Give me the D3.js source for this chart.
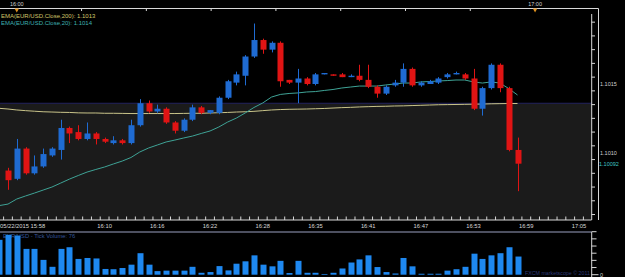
<!DOCTYPE html>
<html><head><meta charset="utf-8">
<script src="https://cdn.jsdelivr.net/npm/d3@7"></script>
<style>html,body{margin:0;padding:0;background:#000;overflow:hidden}</style>
</head><body><svg id="c" width="625" height="277"></svg>
<script>
// ---- data ----
const times = ["15:58","15:59","16:00","16:01","16:02","16:03","16:04","16:05","16:06","16:07","16:08","16:09","16:10","16:11","16:12","16:13","16:14","16:15","16:16","16:17","16:18","16:19","16:20","16:21","16:22","16:23","16:24","16:25","16:26","16:27","16:28","16:29","16:30","16:31","16:33","16:34","16:35","16:36","16:37","16:38","16:39","16:40","16:41","16:42","16:43","16:44","16:45","16:46","16:47","16:48","16:49","16:50","16:51","16:52","16:53","16:54","16:55","16:56","16:57","16:58"];
const open  = [null,1.10087,1.10081,1.10103,1.10085,1.10090,1.10098,1.10102,1.10118,1.10115,1.10110,1.10114,1.10110,1.10107,1.10109,1.10107,1.10120,1.10136,1.10130,1.10132,1.10122,1.10116,1.10124,1.10133,1.10129,1.10129,1.10140,1.10151,1.10156,1.10170,1.10182,1.10175,1.10180,1.10153,1.10151,1.10154,1.10150,1.10157,1.10157,1.10157,1.10155,1.10156,1.10153,1.10148,1.10143,1.10149,1.10151,1.10161,1.10149,1.10150,1.10151,1.10155,1.10157,1.10157,1.10154,1.10132,1.10147,1.10164,1.10147,1.10102];
const high  = [null,1.10089,1.10110,1.10104,1.10098,1.10103,1.10104,1.10124,1.10119,1.10120,1.10122,1.10115,1.10111,1.10112,1.10110,1.10124,1.10139,1.10138,1.10135,1.10133,1.10123,1.10125,1.10135,1.10134,1.10131,1.10141,1.10153,1.10159,1.10171,1.10194,1.10183,1.10181,1.10181,1.10153,1.10161,1.10155,1.10158,1.10158,1.10157,1.10158,1.10157,1.10164,1.10164,1.10149,1.10149,1.10153,1.10165,1.10162,1.10152,1.10153,1.10155,1.10158,1.10159,1.10158,1.10161,1.10148,1.10165,1.10165,1.10148,1.10111];
const low   = [null,1.10073,1.10080,1.10084,1.10084,1.10089,1.10097,1.10095,1.10107,1.10109,1.10109,1.10106,1.10107,1.10106,1.10106,1.10106,1.10119,1.10129,1.10129,1.10121,1.10114,1.10115,1.10123,1.10128,1.10128,1.10128,1.10139,1.10149,1.10149,1.10169,1.10172,1.10173,1.10148,1.10150,1.10136,1.10149,1.10149,1.10157,1.10156,1.10155,1.10155,1.10152,1.10147,1.10140,1.10142,1.10148,1.10148,1.10148,1.10148,1.10150,1.10150,1.10154,1.10157,1.10153,1.10131,1.10127,1.10146,1.10144,1.10101,1.10072];
const close = [null,1.10080,1.10103,1.10085,1.10090,1.10099,1.10103,1.10118,1.10114,1.10110,1.10114,1.10110,1.10108,1.10109,1.10107,1.10120,1.10136,1.10130,1.10132,1.10122,1.10116,1.10124,1.10133,1.10129,1.10131,1.10140,1.10152,1.10157,1.10170,1.10182,1.10175,1.10180,1.10152,1.10151,1.10154,1.10150,1.10157,1.10158,1.10156,1.10155,1.10156,1.10153,1.10148,1.10143,1.10148,1.10151,1.10161,1.10149,1.10151,1.10152,1.10154,1.10157,1.10158,1.10154,1.10132,1.10147,1.10164,1.10147,1.10102,1.10092];
const volume = [146,167,164,108,108,62,33,108,115,66,70,68,24,23,28,42,90,42,15,17,17,17,33,8,11,36,18,46,56,81,42,35,58,7,58,8,8,3,8,26,51,64,81,32,11,5,70,35,4,4,4,17,23,33,88,66,81,90,115,76];
const ema200 = [1.101323,1.101318,1.101311,1.101306,1.101302,1.101298,1.101296,1.101294,1.101293,1.10129,1.101289,1.101289,1.101287,1.101287,1.101286,1.101285,1.101285,1.101285,1.101285,1.101285,1.101285,1.101286,1.101287,1.101287,1.101289,1.101291,1.101293,1.101296,1.101298,1.101301,1.101306,1.101311,1.101314,1.101316,1.101317,1.101318,1.10132,1.101322,1.101325,1.101328,1.10133,1.101333,1.101335,1.101337,1.101338,1.10134,1.101341,1.101343,1.101345,1.101347,1.101349,1.10135,1.101351,1.101352,1.101353,1.101354,1.101356,1.101357,1.101358,1.101358];
const ema20 = [1.100615,1.100626,1.100663,1.100685,1.100706,1.100728,1.10075,1.100779,1.100808,1.100834,1.100859,1.100878,1.100896,1.100918,1.100939,1.100965,1.101005,1.101034,1.101056,1.101078,1.101092,1.101107,1.101121,1.10114,1.101158,1.101187,1.101223,1.101252,1.101289,1.101329,1.101362,1.101405,1.101424,1.101431,1.101435,1.101442,1.101445,1.101453,1.10146,1.101471,1.101478,1.101485,1.101485,1.101485,1.101493,1.1015,1.101507,1.101507,1.101515,1.101518,1.101522,1.101525,1.101529,1.101529,1.101515,1.101507,1.101515,1.101507,1.101467,1.10142];
const timeTickIndex  = [0,12,18,24,30,36,42,48,54,60,66];
const timeTickLabels = ["05/22/2015 15:58","16:10","16:16","16:22","16:28","16:35","16:41","16:47","16:53","16:59","17:05"];
const hourIndex  = [2,61];
const hourLabels = ["16:00","17:00"];
const priceLabels = [1.1015,1.1010];
const lastPrice = 1.10092;
const zoneLevel = 1.10136;
const legendTexts = ["EMA(EUR/USD.Close,200): 1.1013","EMA(EUR/USD.Close,20): 1.1014"];
const volumeLegend = "EUR/USD - Tick Volume: 76";
const watermark = "FXCM marketscope \u00A9 2011";

// ---- drawing ----
const svg = d3.select('#c');
const FONT = "'Liberation Sans', Arial, sans-serif";
const P = {l:0, r:591.5, t:8.5, b:220};
const V = {t:232, b:277};
const x = d3.scaleLinear().domain([0,59]).range([-0.8,517.5]);
const y = d3.scaleLinear().domain([1.1010,1.1015]).range([152.7,84]);
const yv = d3.scaleLinear().domain([0,180]).range([274.7,231.7]);
const BLUE = '#1f6bd2', RED = '#e01414', VBLUE = '#1e88f0';
const idx = d3.range(times.length);

const defs = svg.append('defs');
defs.append('clipPath').attr('id','pc').append('rect')
  .attr('x',P.l).attr('y',P.t).attr('width',P.r-P.l).attr('height',P.b-P.t);
defs.append('clipPath').attr('id','vc').append('rect')
  .attr('x',0).attr('y',V.t).attr('width',P.r).attr('height',V.b-V.t);

// shaded zone below level
const zy = y(zoneLevel);
svg.append('rect').attr('x',P.l).attr('y',zy).attr('width',P.r-P.l).attr('height',P.b-zy).attr('fill','#1b1b1b');
svg.append('line').attr('x1',P.l).attr('x2',P.r).attr('y1',zy).attr('y2',zy).attr('stroke','#22225e').attr('stroke-width',1.2);

const g = svg.append('g').attr('clip-path','url(#pc)');
// EMA lines
const line = d3.line().x((d,i)=>x(i)).y(d=>y(d));
g.append('path').datum(ema200).attr('d',line).attr('fill','none').attr('stroke','#c9c48a').attr('stroke-width',1);
g.append('path').datum(ema20).attr('d',line).attr('fill','none').attr('stroke','#3fa396').attr('stroke-width',1);

// candles
const cidx = idx.filter(i=>open[i]!=null);
const cg = g.append('g');
cg.selectAll('line.w').data(cidx).join('line').attr('class','w')
  .attr('x1',i=>Math.round(x(i))+0.5).attr('x2',i=>Math.round(x(i))+0.5)
  .attr('y1',i=>y(high[i])).attr('y2',i=>y(low[i]))
  .attr('stroke',i=>close[i]>=open[i]?BLUE:RED).attr('stroke-width',1);
cg.selectAll('rect.b').data(cidx).join('rect').attr('class','b')
  .attr('x',i=>Math.round(x(i))-2.5).attr('width',6)
  .attr('y',i=>y(Math.max(open[i],close[i])))
  .attr('height',i=>Math.max(1.2,Math.abs(y(open[i])-y(close[i]))))
  .attr('fill',i=>close[i]>=open[i]?BLUE:RED);

// legend
svg.append('g').selectAll('text').data(legendTexts).join('text')
  .attr('x',1).attr('y',(d,i)=>18.3+i*6.7).text(d=>d)
  .attr('font-family',FONT).attr('font-size',6)
  .attr('fill',(d,i)=>i==0?'#d2c56a':'#3fb0b0');

// frame lines
const fr = svg.append('g').attr('stroke','#d8d8d8').attr('stroke-width',1).attr('fill','none');
fr.append('line').attr('x1',0).attr('x2',598.5).attr('y1',P.t).attr('y2',P.t);
fr.append('line').attr('x1',598.5).attr('x2',598.5).attr('y1',P.t).attr('y2',P.b);
fr.append('line').attr('x1',P.r+0.2).attr('x2',P.r+0.2).attr('y1',14).attr('y2',P.b);
fr.append('line').attr('x1',0).attr('x2',P.r).attr('y1',P.b).attr('y2',P.b);

// top hour labels and markers
const hx = hourIndex.map(i=>x(i));
const topTicks = d3.range(0,9).map(k=>hx[0]+k*(hx[1]-hx[0])/8);
fr.selectAll('line.tt').data(topTicks).join('line').attr('class','tt')
  .attr('x1',d=>d).attr('x2',d=>d).attr('y1',P.t).attr('y2',P.t+2.5);
svg.append('g').selectAll('text').data(hourLabels).join('text')
  .attr('x',(d,i)=>hx[i]).attr('y',6.2).attr('text-anchor','middle').text(d=>d)
  .attr('font-family',FONT).attr('font-size',5.5).attr('fill','#d0d0d0');
svg.append('g').selectAll('path').data(hx).join('path')
  .attr('d',d=>`M${d-2.2},${P.t}L${d+2.2},${P.t}L${d},${P.t+4}Z`).attr('fill','#e0901c');

// price axis
const pticks = d3.range(1.10055,1.10205,0.0001).map(v=>+v.toFixed(5)).filter(v=>y(v)>P.t+3&&y(v)<P.b);
fr.selectAll('line.pt').data(pticks).join('line').attr('class','pt')
  .attr('x1',P.r).attr('x2',d=>P.r+(Math.abs(d*10000-Math.round(d*2000)*5)<0.01?6:3.5))
  .attr('y1',d=>y(d)).attr('y2',d=>y(d));
svg.append('g').selectAll('text').data(priceLabels).join('text')
  .attr('x',600).attr('y',d=>y(d)+2).text(d=>d.toFixed(4))
  .attr('font-family',FONT).attr('font-size',5.5).attr('fill','#d0d0d0');
svg.append('text').attr('x',599).attr('y',y(lastPrice)+2).text(lastPrice.toFixed(5))
  .attr('font-family',FONT).attr('font-size',5.5).attr('fill','#3fc4c4');

// time axis
const tickXs = d3.range(-1,67).map(i=>x(i)+4.4).filter(v=>v>0&&v<P.r);
fr.selectAll('line.xt').data(tickXs).join('line').attr('class','xt')
  .attr('x1',d=>d).attr('x2',d=>d).attr('y1',P.b-3.5).attr('y2',P.b);
svg.append('g').selectAll('text').data(timeTickLabels).join('text')
  .attr('x',(d,i)=>i==0?0:x(timeTickIndex[i])).attr('y',227.5)
  .attr('text-anchor',(d,i)=>i==0?'start':'middle').text(d=>d)
  .attr('font-family',FONT).attr('font-size',5.8).attr('fill','#d8d8d8');

// volume panel
svg.append('text').attr('x',3).attr('y',238.3).text(volumeLegend)
  .attr('font-family',FONT).attr('font-size',5.8).attr('fill','#34559a');
svg.append('g').attr('clip-path','url(#vc)').selectAll('rect').data(idx).join('rect')
  .attr('x',i=>Math.round(x(i))-2.5).attr('width',6)
  .attr('y',i=>yv(volume[i])).attr('height',i=>yv(0)-yv(volume[i]))
  .attr('fill',VBLUE);
svg.append('text').attr('x',590).attr('y',274.5).attr('text-anchor','end').text(watermark)
  .attr('font-family',FONT).attr('font-size',5.3).attr('fill','#2c3a78');
const vf = svg.append('g').attr('stroke','#d8d8d8').attr('stroke-width',1);
vf.append('line').attr('x1',0).attr('x2',P.r).attr('y1',V.t).attr('y2',V.t).attr('stroke','#9aa0c0');
vf.append('line').attr('x1',P.r+0.2).attr('x2',P.r+0.2).attr('y1',V.t).attr('y2',V.b);
vf.selectAll('line.vt').data(d3.range(0,181,30)).join('line').attr('class','vt')
  .attr('x1',P.r).attr('x2',d=>P.r+(d==0?7:5)).attr('y1',d=>yv(d)).attr('y2',d=>yv(d));
svg.append('text').attr('x',600).attr('y',277).text('0')
  .attr('font-family',FONT).attr('font-size',5.5).attr('fill','#d0d0d0');
</script></body></html>
